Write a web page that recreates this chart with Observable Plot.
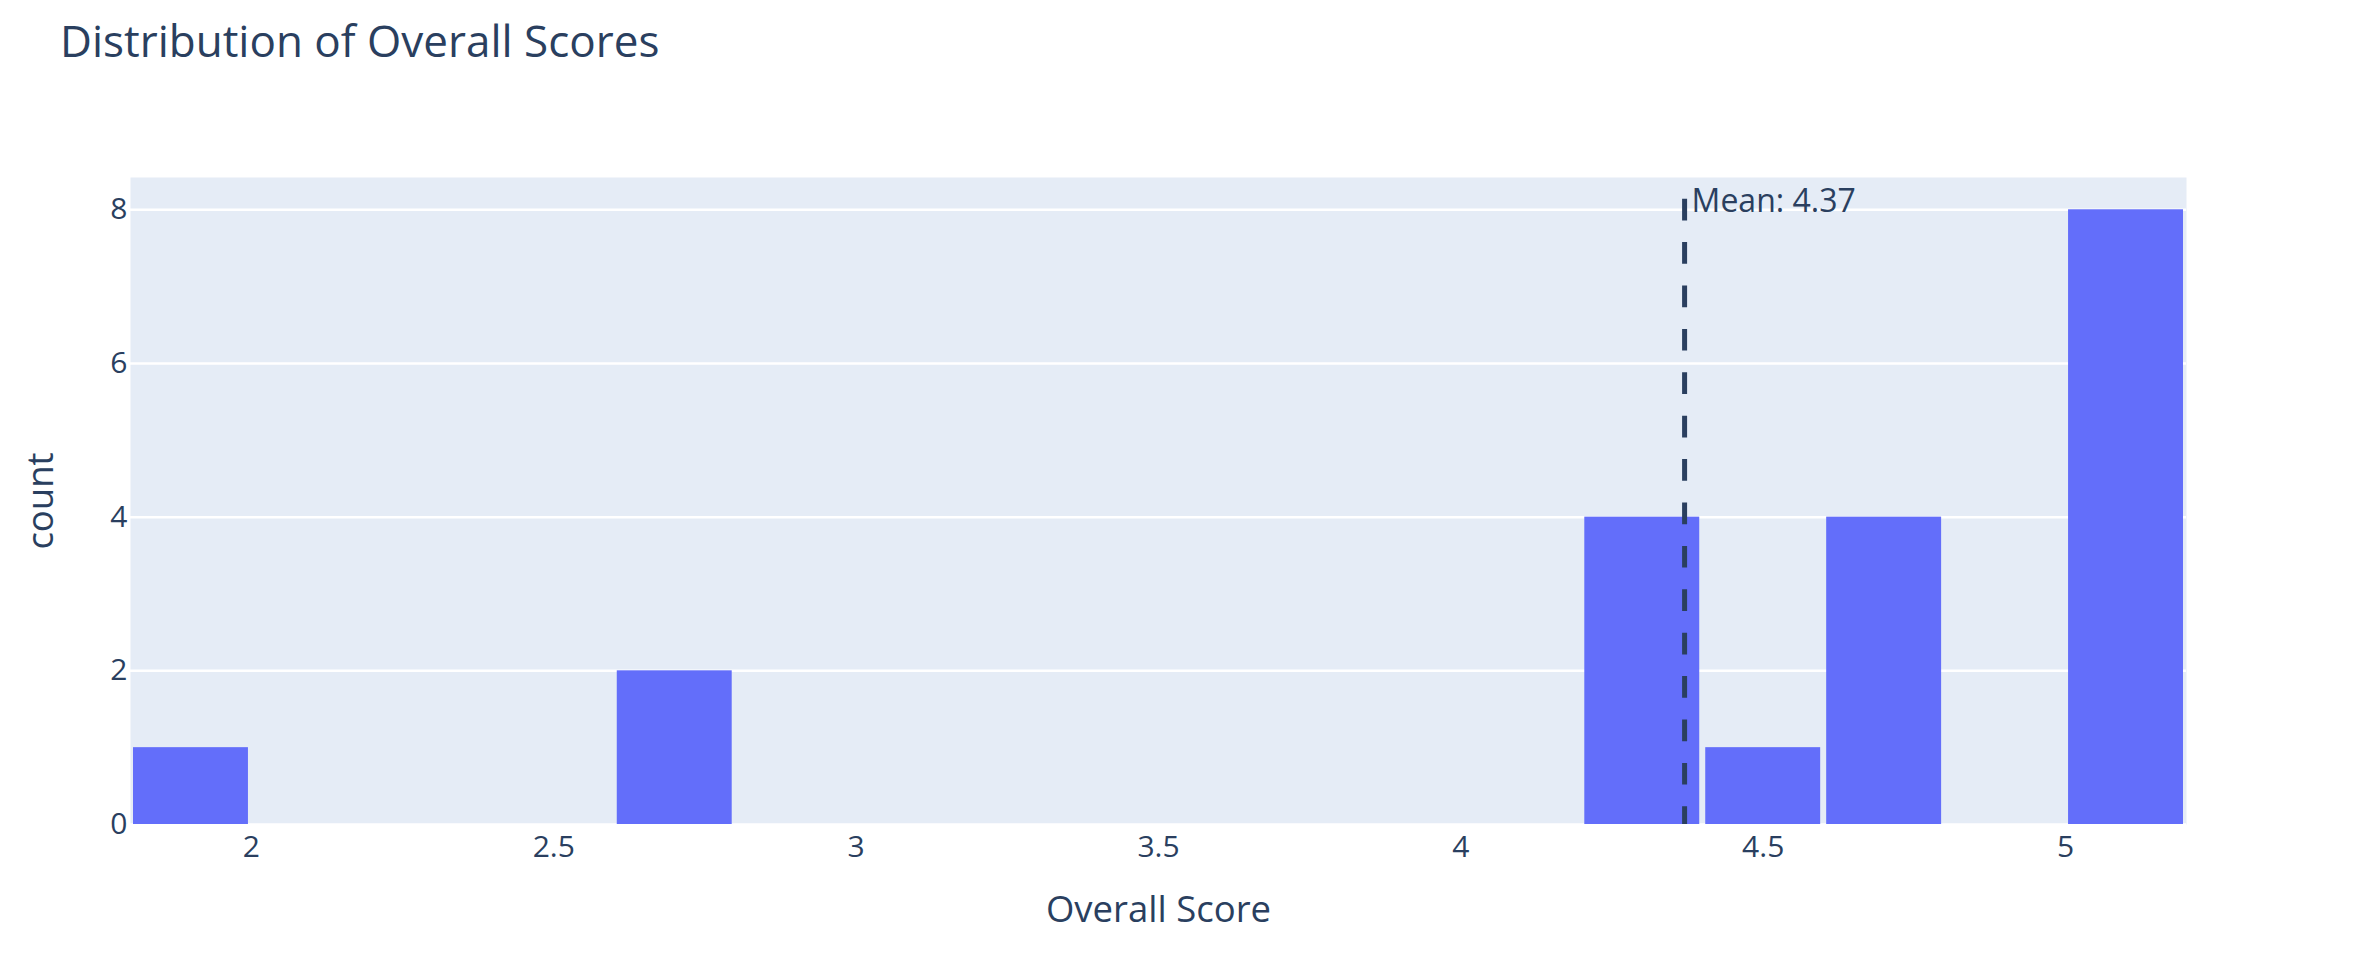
<!DOCTYPE html>
<html>
<head>
<meta charset="utf-8">
<script src="https://cdn.jsdelivr.net/npm/d3@7"></script>
<script src="https://cdn.jsdelivr.net/npm/@observablehq/plot@0.6"></script>
<style>
  html, body { margin: 0; padding: 0; background: #ffffff; }
  body { width: 2356px; height: 960px; overflow: hidden; font-family: "Open Sans", sans-serif; }
  #title { height: 120px; box-sizing: border-box; padding-top: 10px; padding-left: 60px;
           font-size: 44px; line-height: 60px; color: #2a3f5f; white-space: nowrap; }
  #chart svg { display: block; }
</style>
</head>
<body>
<div id="title">Distribution of Overall Scores</div>
<div id="chart"></div>
<script>
// Histogram bins (Overall Score) and counts
const binStarts = [1.8, 2.6, 4.2, 4.4, 4.6, 5.0];
const binEnds   = [2.0, 2.8, 4.4, 4.6, 4.8, 5.2];
const counts    = [1, 2, 4, 1, 4, 8];
const meanScore = 4.37;
const meanLabel = "Mean: 4.37";
const xTicks = [2, 2.5, 3, 3.5, 4, 4.5, 5];
const yTicks = [0, 2, 4, 6, 8];
const xTitle = "Overall Score";
const yTitle = "count";

const bins = binStarts.map((s, i) => ({x1: s, x2: binEnds[i], count: counts[i]}));
const ink = "#2a3f5f";

const chart = Plot.plot({
  width: 2356,
  height: 840,
  marginTop: 57,
  marginBottom: 136,
  marginLeft: 130,
  marginRight: 170,
  style: {fontFamily: "Open Sans, sans-serif", fontSize: "30px", color: ink, background: "#ffffff"},
  x: {domain: [1.8, 5.2]},
  y: {domain: [0, 8.42]},
  marks: [
    Plot.frame({fill: "#E5ECF6", stroke: null}),
    Plot.gridY(yTicks, {stroke: "#ffffff", strokeOpacity: 1, strokeWidth: 2.5}),
    Plot.rectY(bins, {x1: "x1", x2: "x2", y1: 0, y2: "count", fill: "#636efa", insetLeft: 3, insetRight: 3}),
    Plot.ruleX([meanScore], {stroke: ink, strokeWidth: 5, strokeDasharray: "21.7,21.7", strokeDashoffset: 21.7}),
    Plot.text([meanScore], {x: d => d, text: () => meanLabel, frameAnchor: "top", lineAnchor: "bottom",
      textAnchor: "start", dx: 7, dy: 34, fill: ink, fontSize: 32}),
    Plot.axisX(xTicks, {tickSize: 0, tickPadding: 11, tickFormat: d => String(d), label: null, fontSize: 30, fill: ink}),
    Plot.axisY(yTicks, {tickSize: 0, tickPadding: 3, tickFormat: d => String(d), label: null, fontSize: 30, fill: ink}),
    Plot.text([xTitle], {frameAnchor: "bottom", lineAnchor: "bottom", textAnchor: "middle", dy: 97, fontSize: 36.5, fill: ink}),
    Plot.text([yTitle], {frameAnchor: "left", lineAnchor: "bottom", textAnchor: "middle", rotate: -90, dx: -78, fontSize: 36.5, fill: ink})
  ]
});
document.getElementById("chart").appendChild(chart);
</script>
</body>
</html>
